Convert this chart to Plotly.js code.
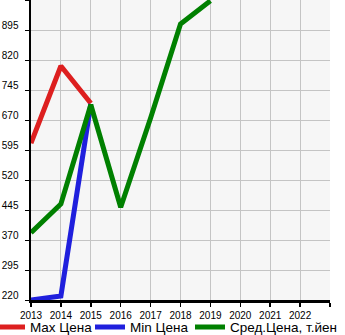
<!DOCTYPE html>
<html>
<head>
<meta charset="utf-8">
<script src="https://cdn.plot.ly/plotly-3.0.1.min.js"></script>
<style>html,body{margin:0;padding:0;background:#fff;}#chart{width:345px;height:335px;}</style>
</head>
<body>
<div id="chart"></div>
<script>
const years = [2013, 2014, 2015, 2016, 2017, 2018, 2019];
const maxPrice = [612, 805, 712, null, null, null, null];
const minPrice = [220, 230, 710, null, null, null, null];
const avgPrice = [388, 460, 708, 452, 675, 910, 968];
const seriesNames = ['Max Цена', 'Min Цена', 'Сред.Цена, т.йен'];
const xTickVals = [2013, 2014, 2015, 2016, 2017, 2018, 2019, 2020, 2021, 2022, 2023];
const xTickText = ['2013', '2014', '2015', '2016', '2017', '2018', '2019', '2020', '2021', '2022', ''];
const yTickVals = [220, 295, 370, 445, 520, 595, 670, 745, 820, 895, 970];
const yTickText = ['220', '295', '370', '445', '520', '595', '670', '745', '820', '895', ''];

const colors = ['#dd1f1f', '#1f1fdd', '#008000'];
const seriesData = [maxPrice, minPrice, avgPrice];
const legendIds = ['legend', 'legend2', 'legend3'];
const legendX = [-10, 90, 190];

const traces = seriesData.map((d, i) => ({
  x: years, y: d, name: seriesNames[i], type: 'scatter', mode: 'lines',
  line: {color: colors[i], width: 5}, legend: legendIds[i]
}));

const legendBase = (px) => ({
  orientation: 'h', xref: 'paper', yref: 'container',
  x: (px - 31) / 299, xanchor: 'left', y: 0.023, yanchor: 'middle',
  font: {size: 13.5}, bgcolor: 'rgba(0,0,0,0)', itemwidth: 30
});

const layout = {
  width: 345, height: 335,
  margin: {l: 31, r: 15, t: 0, b: 35, autoexpand: false},
  paper_bgcolor: '#ffffff', plot_bgcolor: '#f6f6f6',
  font: {family: 'Liberation Sans, Arial, sans-serif', size: 10, color: '#000'},
  showlegend: true,
  legend: legendBase(legendX[0]),
  legend2: legendBase(legendX[1]),
  legend3: legendBase(legendX[2]),
  xaxis: {
    range: [2013, 2023], tickmode: 'array', tickvals: xTickVals, ticktext: xTickText,
    showgrid: true, gridcolor: '#c4c4c4', gridwidth: 1,
    showline: true, linecolor: '#000', linewidth: 2.5,
    ticks: 'outside', ticklen: 4, tickcolor: '#000', tickwidth: 1.5,
    zeroline: false, fixedrange: true
  },
  yaxis: {
    range: [220, 970], tickmode: 'array', tickvals: yTickVals, ticktext: yTickText,
    showgrid: true, gridcolor: '#c4c4c4', gridwidth: 1,
    showline: true, linecolor: '#000', linewidth: 2.5,
    ticks: 'outside', ticklen: 4, tickcolor: '#000', tickwidth: 1,
    ticklabelshift: -5, ticklabelstandoff: 4,
    zeroline: false, fixedrange: true
  }
};

Plotly.newPlot('chart', traces, layout, {displayModeBar: false, staticPlot: true});
</script>
</body>
</html>
